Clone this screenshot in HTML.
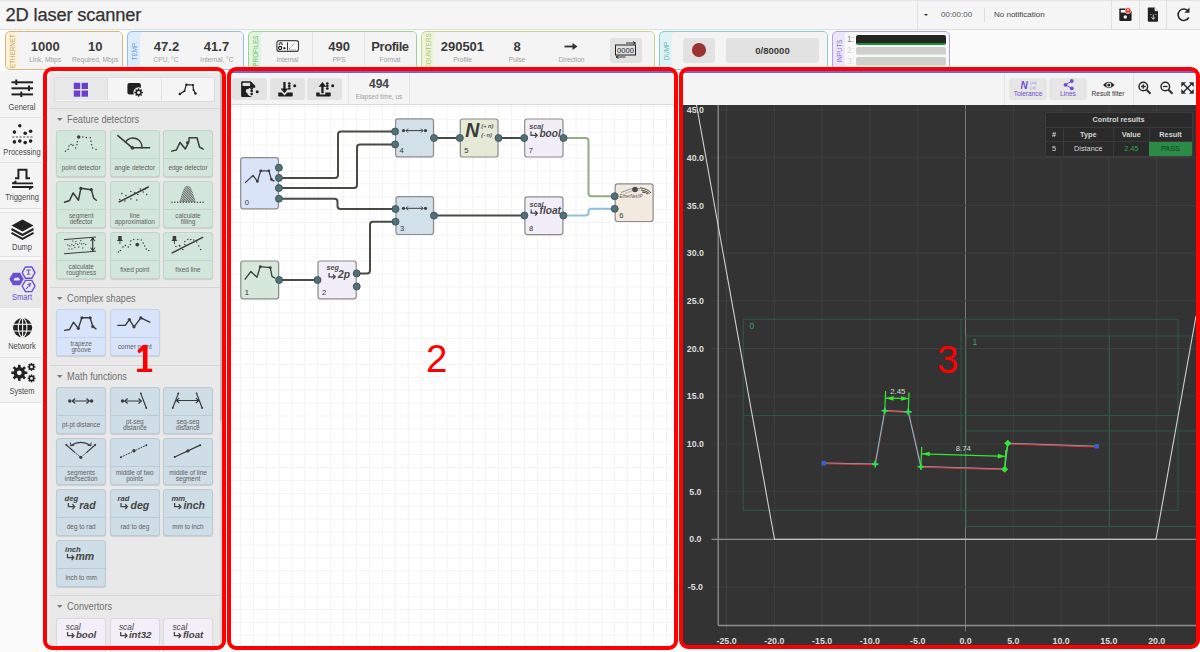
<!DOCTYPE html>
<html><head><meta charset="utf-8"><style>
*{box-sizing:border-box;margin:0;padding:0}
html,body{width:1200px;height:652px;overflow:hidden;background:#fbfbfb;font-family:"Liberation Sans",sans-serif;color:#333}
.a{position:absolute}
#title{left:0;top:0;width:1200px;height:30px;background:#f5f5f5;border-bottom:1px solid #dedede;box-shadow:inset 0 1px 0 #e3e3e8}
#title h1{position:absolute;left:5.5px;top:5px;font-size:18.3px;line-height:20px;font-weight:normal;color:#333;letter-spacing:-0.15px;-webkit-text-stroke:0.25px #333}
.vsep{position:absolute;top:0;width:1px;height:29px;background:#e0e0e0}
.wbox{position:absolute;top:31px;height:39px;border:1px solid #ccc;border-radius:5px;background:#f4f4f4;overflow:hidden}
.wlab{position:absolute;left:0;top:0;bottom:0;width:12px;}
.wlab span{position:absolute;left:50%;top:50%;transform:translate(-50%,-50%) rotate(-90deg);font-size:6.3px;line-height:7px;letter-spacing:0px;white-space:nowrap}
.val{position:absolute;font-weight:bold;font-size:13px;line-height:14px;color:#3a3a3a;text-align:center;white-space:nowrap}
.lbl{position:absolute;font-size:6.6px;line-height:7px;color:#a0a0a0;text-align:center;white-space:nowrap}
.redb{position:absolute;border:4px solid #ff0000;border-radius:9px;pointer-events:none}
.num{position:absolute;color:#ff0000;font-size:37px;line-height:1}
#nav{left:0;top:71px;width:42px;height:331px;background:#f4f4f4}
.nsep{position:absolute;left:0;width:42px;height:1px;background:#e2e2e2}
.nl{position:absolute;left:0;width:44px;text-align:center;transform:scaleX(0.9);transform-origin:22px 0;font-size:8.4px;line-height:9px;color:#4a4a4a;white-space:nowrap}
.card{position:absolute;border:1px solid;border-radius:3px;box-shadow:0 1px 1px rgba(0,0,0,0.12);overflow:hidden}
.card .ic{position:absolute;left:-1px;top:-1px}
.card .csep{position:absolute;left:0;right:0;top:27px;height:1px}
.card .clab{position:absolute;left:-4px;right:-4px;top:29px;bottom:0;display:flex;align-items:center;justify-content:center;text-align:center;font-size:6.4px;line-height:6.3px;color:#606060}
.shd{position:absolute;left:57px;transform:scaleX(0.92);transform-origin:0 0;font-size:10px;line-height:11px;color:#707070;white-space:nowrap}
.shd .tri{display:inline-block;width:0;height:0;border-left:3px solid transparent;border-right:3px solid transparent;border-top:3.5px solid #7a7a7a;margin-right:5px;vertical-align:2px}
</style></head>
<body>
<div id="title" class="a"><h1>2D laser scanner</h1>
<div class="vsep" style="left:917px"></div>
<div class="a" style="left:924px;top:13.5px;width:0;height:0;border-left:2.5px solid transparent;border-right:2.5px solid transparent;border-top:2.5px solid #333"></div>
<div class="a" style="left:941px;top:10px;font-size:8px;line-height:9px;color:#555">00:00:00</div>
<div class="a" style="left:984px;top:8px;width:1px;height:14px;background:#ddd"></div>
<div class="a" style="left:994px;top:10px;font-size:8px;line-height:9px;color:#444">No notification</div>
<div class="vsep" style="left:1111px"></div>
<div class="vsep" style="left:1139px"></div>
<div class="vsep" style="left:1166px"></div>
<svg class="a" style="left:1112px;top:0" width="88" height="29">
<path d="M7.3 9.2 a0.8 0.8 0 0 1 0.8 -0.8 h8.5 l3 3 v8.7 a0.8 0.8 0 0 1 -0.8 0.8 h-10.7 a0.8 0.8 0 0 1 -0.8 -0.8 z" fill="#222"/><rect x="8.8" y="10" width="5.5" height="2.6" fill="#f4f4f4"/><circle cx="13.3" cy="17" r="1.7" fill="#f4f4f4"/>
<circle cx="16" cy="10.7" r="3" fill="#e53935" stroke="#f4f4f4" stroke-width="0.6"/><path d="M16 9 v2" stroke="#fff" stroke-width="1"/><circle cx="16" cy="12.4" r="0.5" fill="#fff"/>
<path d="M35.8 8.3 a0.8 0.8 0 0 1 0.8 -0.8 h6.4 l3 3.2 v10.2 a0.8 0.8 0 0 1 -0.8 0.8 h-8.6 a0.8 0.8 0 0 1 -0.8 -0.8 z" fill="#222"/><path d="M43 7.5 v3.2 h3" fill="#f4f4f4" stroke="#f4f4f4" stroke-width="0.8"/><path d="M41.3 14.5 v4.5 M39.4 17.2 l1.9 2.2 l1.9 -2.2" stroke="#d8d8d8" stroke-width="0.9" fill="none"/><path d="M38 14.5 h1.5 M43 14.5 h1.5" stroke="#aaa" stroke-width="0.8"/>
<path d="M76.3 11.2 A 5.7 5.7 0 1 0 76.8 17.5" stroke="#2a2a2a" stroke-width="1.6" fill="none"/><path d="M77.5 7.6 L77.5 12.8 L72.3 12.8 Z" fill="#2a2a2a"/>
</svg>
</div>
<div class="wbox" style="left:5px;width:118px;border:1.4px solid #d8b877;background:#fcf1da"><div class="wlab" style="width:12px"><span style="color:#c9a058">ETHERNET</span></div><div class="a" style="left:12px;top:0;right:0;bottom:0;background:#f4f4f4;border-radius:4px 0 0 4px"></div></div>
<div class="wbox" style="left:127px;width:117px;border:1.4px solid #94bde6;background:#dcecfb"><div class="wlab" style="width:12px"><span style="color:#6a9bd0">TEMP.</span></div><div class="a" style="left:12px;top:0;right:0;bottom:0;background:#f4f4f4;border-radius:4px 0 0 4px"></div></div>
<div class="wbox" style="left:248px;width:169px;border:1.4px solid #98d498;background:#e0f4e0"><div class="wlab" style="width:12px"><span style="color:#6cbf6c">PROFILES</span></div><div class="a" style="left:12px;top:0;right:0;bottom:0;background:#f4f4f4;border-radius:4px 0 0 4px"></div></div>
<div class="wbox" style="left:421px;width:234px;border:1.4px solid #c0d890;background:#eef4dc"><div class="wlab" style="width:12px"><span style="color:#aac668">COUNTERS</span></div><div class="a" style="left:12px;top:0;right:0;bottom:0;background:#f4f4f4;border-radius:4px 0 0 4px"></div></div>
<div class="wbox" style="left:659px;width:169px;border:1.4px solid #86cccc;background:#def3f3"><div class="wlab" style="width:12px"><span style="color:#5fb3b3">DUMP</span></div><div class="a" style="left:12px;top:0;right:0;bottom:0;background:#f4f4f4;border-radius:4px 0 0 4px"></div></div>
<div class="wbox" style="left:832px;width:118px;border:1.4px solid #b3a0e6;background:#ebe6f8"><div class="wlab" style="width:12px"><span style="color:#8c72cc">INPUTS</span></div><div class="a" style="left:12px;top:0;right:0;bottom:0;background:#f4f4f4;border-radius:4px 0 0 4px"></div></div>
<div class="val" style="left:5.299999999999997px;top:40.2px;width:80px;font-size:13px">1000</div><div class="lbl" style="left:5.100000000000001px;top:55.5px;width:80px">Link, Mbps</div><div class="val" style="left:55.3px;top:40.2px;width:80px;font-size:13px">10</div><div class="lbl" style="left:55.400000000000006px;top:55.5px;width:80px">Required, Mbps</div>
<div class="val" style="left:126.5px;top:40.2px;width:80px;font-size:13px">47.2</div><div class="lbl" style="left:126px;top:55.5px;width:80px">CPU, °C</div><div class="val" style="left:176.5px;top:40.2px;width:80px;font-size:13px">41.7</div><div class="lbl" style="left:176.9px;top:55.5px;width:80px">Internal, °C</div>
<div class="a" style="left:312px;top:32px;width:1px;height:37px;background:#e4e4e4"></div><div class="a" style="left:363.5px;top:32px;width:1px;height:37px;background:#e4e4e4"></div>
<svg class="a" style="left:276px;top:39px" width="24" height="14"><rect x="0.9" y="1.6" width="21.6" height="10.8" rx="2.2" fill="#f6f6f6" stroke="#444" stroke-width="1.2"/><path d="M2.8 5.5 h1 v-1.8 h2 v1.8 h1" stroke="#222" stroke-width="0.9" fill="none"/><circle cx="4.1" cy="9" r="1.6" fill="none" stroke="#111" stroke-width="1.1"/><path d="M7.8 8.3 l1.8 0.9 l-1.8 0.9 z" fill="#111" stroke="#111" stroke-width="0.6"/><line x1="11.5" y1="3.3" x2="11.5" y2="11.3" stroke="#222" stroke-width="0.9"/><path d="M13 10 L18.5 4.2" stroke="#555" stroke-width="0.9" stroke-dasharray="1 1.1"/><rect x="13" y="10.5" width="7" height="1" fill="#aaa"/></svg>
<div class="lbl" style="left:247.5px;top:55.5px;width:80px">Internal</div><div class="val" style="left:299.2px;top:40.2px;width:80px;font-size:13px">490</div><div class="lbl" style="left:299px;top:55.5px;width:80px">PPS</div><div class="val" style="left:350px;top:40.2px;width:80px;font-size:13px"><span style="letter-spacing:-0.45px">Profile</span></div><div class="lbl" style="left:350px;top:55.5px;width:80px">Format</div>
<div class="val" style="left:422.4px;top:40.2px;width:80px;font-size:13px">290501</div><div class="lbl" style="left:422.5px;top:55.5px;width:80px">Profile</div><div class="val" style="left:477px;top:40.2px;width:80px;font-size:13px">8</div><div class="lbl" style="left:477px;top:55.5px;width:80px">Pulse</div><div class="lbl" style="left:531.5px;top:55.5px;width:80px">Direction</div>
<svg class="a" style="left:564px;top:42px" width="14" height="9"><path d="M0.5 4.5 h9" stroke="#333" stroke-width="1.8"/><path d="M8.5 1 L13.5 4.5 L8.5 8 Z" fill="#333"/></svg>
<div class="a" style="left:610px;top:38px;width:32px;height:24.5px;background:#e2e2e2;border-radius:3px"></div>
<svg class="a" style="left:612px;top:40px" width="28" height="20"><rect x="3.5" y="5" width="20" height="10" fill="none" stroke="#222" stroke-width="1"/><text x="13.5" y="13.3" font-size="7.8" text-anchor="middle" fill="#222" font-family="Liberation Sans" textLength="17" lengthAdjust="spacingAndGlyphs">0000</text><path d="M14 3 h9.5 M21 1.5 l2.5 1.5 l-2.5 1.5 M4 17 h9.5 M6.5 15.5 l-2.5 1.5 l2.5 1.5" stroke="#222" stroke-width="0.9" fill="none"/></svg>
<div class="a" style="left:683px;top:38px;width:32px;height:24.5px;background:#e2e2e2;border-radius:3px"></div>
<div class="a" style="left:692px;top:43px;width:13.5px;height:13.5px;background:#9b3333;border-radius:50%"></div>
<div class="a" style="left:726px;top:38px;width:93px;height:24.5px;background:#e2e2e2;border-radius:3px"></div>
<div class="val" style="left:726px;top:44.5px;width:93px;font-size:9.5px;line-height:11px">0/80000</div>
<div class="a" style="left:845px;top:32.5px;width:103px;height:36.5px;background:#f8f8f8;border-radius:0 3px 3px 0"></div><div class="a" style="left:847px;top:35px;font-size:8.5px;line-height:9px;color:#888">1:</div><div class="a" style="left:847px;top:46px;font-size:8.5px;line-height:9px;color:#d6d6d6">2:</div><div class="a" style="left:847px;top:57px;font-size:8.5px;line-height:9px;color:#d6d6d6">3:</div><div class="a" style="left:856px;top:35px;width:90px;height:9.5px;background:#252521;border-radius:2px;border-bottom:2px solid #1f8a3a"></div><div class="a" style="left:856px;top:46.5px;width:90px;height:8.5px;background:#cfcfcc;border-radius:2px;border-bottom:1.5px solid #cfe6cf"></div><div class="a" style="left:856px;top:57px;width:90px;height:8.5px;background:#cfcfcc;border-radius:2px;border-bottom:1.5px solid #cfe6cf"></div>
<div id="nav" class="a">
</div>
<div class="nsep" style="top:117px"></div>
<div class="nsep" style="top:162px"></div>
<div class="nsep" style="top:208px"></div>
<div class="nsep" style="top:212px"></div>
<div class="nsep" style="top:256px"></div>
<div class="nsep" style="top:260px"></div>
<div class="nsep" style="top:307px"></div>
<div class="nsep" style="top:357px"></div>
<div class="nsep" style="top:402px"></div>
<div class="a" style="left:0;top:261px;width:42px;height:46px;background:#e8e8e8"></div>
<div class="a" style="left:0;top:209px;width:42px;height:3px;background:#f8f8f8"></div>
<div class="a" style="left:0;top:257px;width:42px;height:3px;background:#f8f8f8"></div>
<div class="nl" style="top:102.5px;color:#4a4a4a">General</div>
<div class="nl" style="top:147.5px;color:#4a4a4a">Processing</div>
<div class="nl" style="top:193.0px;color:#4a4a4a">Triggering</div>
<div class="nl" style="top:243.0px;color:#4a4a4a">Dump</div>
<div class="nl" style="top:292.5px;color:#6a4fd0">Smart</div>
<div class="nl" style="top:342.0px;color:#4a4a4a">Network</div>
<div class="nl" style="top:387.0px;color:#4a4a4a">System</div>
<svg class="a" style="left:0;top:71px" width="42" height="331">
<g stroke="#222" stroke-width="2" fill="#222">
<line x1="11.5" y1="11.3" x2="33" y2="11.3"/><line x1="11.5" y1="17.3" x2="33" y2="17.3"/><line x1="11.5" y1="23.4" x2="33" y2="23.4"/>
<rect x="15.3" y="8.5" width="2" height="5.5" stroke="none"/><rect x="28" y="14.5" width="2" height="5.5" stroke="none"/><rect x="20.3" y="20.6" width="2" height="5.5" stroke="none"/>
</g>
<g fill="#222">
<circle cx="19.8" cy="54.7" r="1.7"/><circle cx="14.4" cy="61.1" r="1.8"/><circle cx="25.2" cy="62.2" r="1.8"/><circle cx="30.6" cy="60.3" r="1.8"/>
<circle cx="14.4" cy="70.9" r="1.8"/><circle cx="19.8" cy="70.1" r="1.8"/><circle cx="25.2" cy="71.6" r="1.8"/><circle cx="30.6" cy="70.1" r="1.8"/>
</g>
<line x1="12.3" y1="66" x2="33" y2="66" stroke="#555" stroke-width="1" stroke-dasharray="2.2 1.4"/>
<path d="M15 107.2 h3.4 v-8.4 h8.1 v8.4 h3.5" stroke="#222" stroke-width="2" fill="none"/>
<path d="M12.3 112.3 h20.7 M12 116 h21" stroke="#222" stroke-width="1.8" fill="none"/><path d="M12 112.3 l4 -2.5 v2.5 z M33.3 116 l-4 2.5 v-2.5 z" fill="#222" stroke="#222" stroke-width="0.8"/>
<path d="M22.5 148.5 L33.5 154.5 L22.5 160.5 L11.5 154.5 Z" fill="#222"/>
<path d="M11.5 158 L22.5 164 L33.5 158" stroke="#222" stroke-width="2" fill="none"/>
<path d="M11.5 161.8 L22.5 167.8 L33.5 161.8" stroke="#222" stroke-width="2" fill="none"/>
<g fill="#6a4fd0" stroke="#6a4fd0">
<path d="M9.3 208 L12.9 201.8 L20.1 201.8 L23.7 208 L20.1 214.2 L12.9 214.2 Z" stroke="none"/>
<path d="M22.2 201.6 L25.4 196 L31.8 196 L35 201.6 L31.8 207.2 L25.4 207.2 Z" fill="none" stroke-width="1.4"/>
<path d="M22.2 215 L25.4 209.4 L31.8 209.4 L35 215 L31.8 220.6 L25.4 220.6 Z" fill="none" stroke-width="1.4"/>
<path d="M26.3 199 h4.5 M28.5 199 v3.5 M26.8 203.2 h3.5" stroke-width="1.1" fill="none"/>
<path d="M26 218 l4.5 -5 M27.5 213.5 l3 -1 l-1 3" stroke-width="1.1" fill="none"/>
</g>
<path d="M12.8 210.3 h7.5 a1.6 1.6 0 0 0 0 -3.2 a2.2 2.2 0 0 0 -4 -1 a1.8 1.8 0 0 0 -3 1.5 a1.4 1.4 0 0 0 -0.5 2.7 z" fill="#e8e8e8" transform="translate(16.5 208.3) scale(0.62) translate(-16.5 -208.3)"/>
<circle cx="22.6" cy="256.7" r="9.6" fill="#222"/>
<g fill="none" stroke="#f4f4f4">
<ellipse cx="22.6" cy="256.7" rx="4.3" ry="9.4" stroke-width="1.1"/>
<line x1="22.6" y1="247" x2="22.6" y2="266.4" stroke-width="1.1"/>
<line x1="13" y1="253.3" x2="32.2" y2="253.3" stroke-width="1.1"/><line x1="13" y1="260.1" x2="32.2" y2="260.1" stroke-width="1.1"/>
</g>
<g fill="#222">
<circle cx="19.3" cy="301.8" r="5.8"/>
<g stroke="#222" stroke-width="2.6"><line x1="19.3" y1="293.8" x2="19.3" y2="309.8"/><line x1="11.3" y1="301.8" x2="27.3" y2="301.8"/><line x1="13.6" y1="296.1" x2="25" y2="307.5"/><line x1="25" y1="296.1" x2="13.6" y2="307.5"/></g>
<circle cx="31.5" cy="295.9" r="2.9"/><circle cx="31.5" cy="307.4" r="2.9"/>
<g stroke="#222" stroke-width="1.5"><line x1="31.5" y1="292" x2="31.5" y2="299.8"/><line x1="27.6" y1="295.9" x2="35.4" y2="295.9"/><line x1="28.7" y1="293.1" x2="34.3" y2="298.7"/><line x1="34.3" y1="293.1" x2="28.7" y2="298.7"/><line x1="31.5" y1="303.5" x2="31.5" y2="311.3"/><line x1="27.6" y1="307.4" x2="35.4" y2="307.4"/><line x1="28.7" y1="304.6" x2="34.3" y2="310.2"/><line x1="34.3" y1="304.6" x2="28.7" y2="310.2"/></g>
</g>
<circle cx="19.3" cy="301.8" r="2.4" fill="#f4f4f4"/><circle cx="31.5" cy="295.9" r="1.4" fill="#f4f4f4"/><circle cx="31.5" cy="307.4" r="1.4" fill="#f4f4f4"/>
</svg>
<div class="a" style="left:47px;top:71px;width:175px;height:575px;background:#f4f4f4"></div>
<div class="a" id="p1bg" style="left:49px;top:72.5px;width:173px;height:574px;background:#e9e9e9;border-top-left-radius:3px"></div>
<div class="a" style="left:220px;top:71px;width:2px;height:575px;background:#d9d9d9"></div>
<div class="a" style="left:219.5px;top:72px;width:2.5px;height:349px;background:#bcbdbd;border-radius:1px"></div>
<div class="a" style="left:54px;top:77px;width:161px;height:25px;background:#f5f5f5;border:1px solid #dcdcdc;border-radius:3px;overflow:hidden">
<div class="a" style="left:0;top:0;width:53px;height:22px;background:#e8e8e8;border-right:1px solid #dcdcdc"></div>
<div class="a" style="left:106px;top:0;width:1px;height:22px;background:#e3e3e3"></div>
<svg class="a" style="left:0;top:0" width="160" height="22">
<rect x="18.8" y="4.8" width="6.4" height="6.2" fill="#6a3fcf"/><rect x="26.6" y="4.8" width="6.4" height="6.2" fill="#6a3fcf"/><rect x="18.8" y="12.5" width="6.4" height="6.2" fill="#6a3fcf"/><rect x="26.6" y="12.5" width="6.4" height="6.2" fill="#6a3fcf"/>
<rect x="72.4" y="5.1" width="13.5" height="11.3" rx="2" fill="#222"/><circle cx="83.6" cy="14.5" r="5.2" fill="#f5f5f5"/>
<g stroke="#222" stroke-width="1.4"><line x1="83.6" y1="10.2" x2="83.6" y2="18.8"/><line x1="79.3" y1="14.5" x2="87.9" y2="14.5"/><line x1="80.6" y1="11.5" x2="86.6" y2="17.5"/><line x1="86.6" y1="11.5" x2="80.6" y2="17.5"/></g><circle cx="83.6" cy="14.5" r="3.1" fill="#222"/><circle cx="83.6" cy="14.5" r="1.5" fill="#f5f5f5"/>
<polyline points="124.9,16 129.5,13 131.3,6.7 138,7 138.5,12 140.5,15.5" fill="none" stroke="#222" stroke-width="1.2"/><g fill="#222"><circle cx="124.9" cy="16" r="1.3"/><circle cx="129.5" cy="13" r="1"/><circle cx="131.3" cy="6.7" r="1.1"/><circle cx="138" cy="7" r="1.1"/><circle cx="138.5" cy="12" r="1"/><circle cx="140.5" cy="15.5" r="1.3"/></g>
</svg></div>
<div class="a" style="left:49px;top:108px;width:171px;height:1px;background:#d5d5d5"></div>
<div class="shd" style="top:114px"><span class="tri"></span>Feature detectors</div>
<div class="a" style="left:49px;top:287px;width:171px;height:1px;background:#d5d5d5"></div>
<div class="shd" style="top:293px"><span class="tri"></span>Complex shapes</div>
<div class="a" style="left:49px;top:365px;width:171px;height:1px;background:#d5d5d5"></div>
<div class="shd" style="top:371px"><span class="tri"></span>Math functions</div>
<div class="a" style="left:49px;top:595px;width:171px;height:1px;background:#d5d5d5"></div>
<div class="shd" style="top:601px"><span class="tri"></span>Convertors</div>
<div class="card" style="left:56.4px;top:130px;width:49.6px;height:47px;background:#d2e6db;border-color:#bfd6c9">
<svg class="ic" width="49.6" height="28" viewBox="0 0 50 28"><circle cx="22.9" cy="6.9" r="1.8" fill="#3d3d3d"/><circle cx="9.6" cy="21.4" r="0.78" fill="#3d3d3d"/><circle cx="12.2" cy="19.4" r="0.78" fill="#3d3d3d"/><circle cx="13.1" cy="16" r="0.78" fill="#3d3d3d"/><circle cx="15.2" cy="14.5" r="0.78" fill="#3d3d3d"/><circle cx="17.2" cy="15.4" r="0.78" fill="#3d3d3d"/><circle cx="19.8" cy="18.1" r="0.78" fill="#3d3d3d"/><circle cx="21.1" cy="14.7" r="0.78" fill="#3d3d3d"/><circle cx="21.6" cy="11.7" r="0.78" fill="#3d3d3d"/><circle cx="27.1" cy="7" r="0.78" fill="#3d3d3d"/><circle cx="30.6" cy="7.5" r="0.78" fill="#3d3d3d"/><circle cx="34.6" cy="7.7" r="0.78" fill="#3d3d3d"/><circle cx="35.2" cy="11.2" r="0.78" fill="#3d3d3d"/><circle cx="35.9" cy="14.7" r="0.78" fill="#3d3d3d"/><circle cx="36.9" cy="18" r="0.78" fill="#3d3d3d"/><circle cx="40.4" cy="19.5" r="0.78" fill="#3d3d3d"/></svg>
<div class="csep" style="background:#bfd6c9"></div>
<div class="clab">point detector</div></div>
<div class="card" style="left:110px;top:130px;width:49.6px;height:47px;background:#d2e6db;border-color:#bfd6c9">
<svg class="ic" width="49.6" height="28" viewBox="0 0 50 28"><line x1="7.9" y1="5.5" x2="22.6" y2="17.9" stroke="#3a3a3a" fill="none" stroke-linejoin="round" stroke-linecap="round" stroke-width="1.5"/><line x1="22.6" y1="17.9" x2="40" y2="17.9" stroke="#3a3a3a" fill="none" stroke-linejoin="round" stroke-linecap="round" stroke-width="1.5"/><path d="M15.6 12.1 A 9 9 0 0 1 32.1 17.9" stroke="#3a3a3a" fill="none" stroke-linejoin="round" stroke-linecap="round" stroke-width="1.5"/><circle cx="22.6" cy="17.9" r="1.9" fill="#3d3d3d"/></svg>
<div class="csep" style="background:#bfd6c9"></div>
<div class="clab">angle detector</div></div>
<div class="card" style="left:163.2px;top:130px;width:49.6px;height:47px;background:#d2e6db;border-color:#bfd6c9">
<svg class="ic" width="49.6" height="28" viewBox="0 0 50 28"><polyline points="8.8,21.2 13.5,20 17.2,12.4 22.5,19 26,12.2 26.3,7.7 34.3,7.7 36.8,17 40.6,19.1" stroke="#3a3a3a" fill="none" stroke-linejoin="round" stroke-linecap="round" stroke-width="1.5" /><circle cx="24.6" cy="12.8" r="1.5" fill="#3d3d3d"/></svg>
<div class="csep" style="background:#bfd6c9"></div>
<div class="clab">edge detector</div></div>
<div class="card" style="left:56.4px;top:181px;width:49.6px;height:47px;background:#d2e6db;border-color:#bfd6c9">
<svg class="ic" width="49.6" height="28" viewBox="0 0 50 28"><polyline points="8.6,21.3 13.6,19.6 17.3,11.9 22.6,19.3 25.1,7.3 35.6,8.6 38.1,17.3 40.6,19.3" stroke="#3a3a3a" fill="none" stroke-linejoin="round" stroke-linecap="round" stroke-width="1.5"/><circle cx="25.1" cy="7.3" r="1.6" fill="#3d3d3d"/><circle cx="35.6" cy="8.6" r="1.6" fill="#3d3d3d"/></svg>
<div class="csep" style="background:#bfd6c9"></div>
<div class="clab">segment<br>detector</div></div>
<div class="card" style="left:110px;top:181px;width:49.6px;height:47px;background:#d2e6db;border-color:#bfd6c9">
<svg class="ic" width="49.6" height="28" viewBox="0 0 50 28"><line x1="9.3" y1="21" x2="38.6" y2="5.9" stroke="#3a3a3a" fill="none" stroke-linejoin="round" stroke-linecap="round" stroke-width="1.5"/><circle cx="12" cy="12.5" r="0.78" fill="#3d3d3d"/><circle cx="16" cy="14.5" r="0.78" fill="#3d3d3d"/><circle cx="21" cy="10.5" r="0.78" fill="#3d3d3d"/><circle cx="25" cy="11.5" r="0.78" fill="#3d3d3d"/><circle cx="30.5" cy="8" r="0.78" fill="#3d3d3d"/><circle cx="33.5" cy="11" r="0.78" fill="#3d3d3d"/><circle cx="37" cy="13.5" r="0.78" fill="#3d3d3d"/><circle cx="9.8" cy="18.5" r="0.78" fill="#3d3d3d"/><circle cx="15" cy="20" r="0.78" fill="#3d3d3d"/><circle cx="21" cy="18" r="0.78" fill="#3d3d3d"/><circle cx="27" cy="19" r="0.78" fill="#3d3d3d"/><circle cx="28" cy="13.5" r="0.78" fill="#3d3d3d"/><circle cx="35.7" cy="8" r="0.78" fill="#3d3d3d"/></svg>
<div class="csep" style="background:#bfd6c9"></div>
<div class="clab">line<br>approximation</div></div>
<div class="card" style="left:163.2px;top:181px;width:49.6px;height:47px;background:#d2e6db;border-color:#bfd6c9">
<svg class="ic" width="49.6" height="28" viewBox="0 0 50 28"><circle cx="9.1" cy="21.3" r="0.75" fill="#3d3d3d"/><circle cx="11.95" cy="21.3" r="0.75" fill="#3d3d3d"/><circle cx="14.8" cy="21.3" r="0.75" fill="#3d3d3d"/><circle cx="17.65" cy="21.3" r="0.75" fill="#3d3d3d"/><circle cx="20.5" cy="21.3" r="0.75" fill="#3d3d3d"/><circle cx="23.35" cy="21.3" r="0.75" fill="#3d3d3d"/><circle cx="26.200000000000003" cy="21.3" r="0.75" fill="#3d3d3d"/><circle cx="29.049999999999997" cy="21.3" r="0.75" fill="#3d3d3d"/><circle cx="31.9" cy="21.3" r="0.75" fill="#3d3d3d"/><circle cx="34.75" cy="21.3" r="0.75" fill="#3d3d3d"/><circle cx="37.6" cy="21.3" r="0.75" fill="#3d3d3d"/><circle cx="40.45" cy="21.3" r="0.75" fill="#3d3d3d"/><clipPath id="fillclip"><path d="M16.5 21 L19 13 L21.5 6.5 L24.8 4.3 L28 6.5 L30.5 13 L33 21 Z"/></clipPath><g clip-path="url(#fillclip)" stroke="#3a3a3a" stroke-width="0.75"><line x1="-5.6" y1="0" x2="16.4" y2="22"/><line x1="-3.9000000000000004" y1="0" x2="18.1" y2="22"/><line x1="-2.1999999999999993" y1="0" x2="19.8" y2="22"/><line x1="-0.5" y1="0" x2="21.5" y2="22"/><line x1="1.2000000000000002" y1="0" x2="23.2" y2="22"/><line x1="2.9000000000000004" y1="0" x2="24.9" y2="22"/><line x1="4.6" y1="0" x2="26.6" y2="22"/><line x1="6.3" y1="0" x2="28.3" y2="22"/><line x1="8.0" y1="0" x2="30.0" y2="22"/><line x1="9.7" y1="0" x2="31.7" y2="22"/><line x1="11.4" y1="0" x2="33.4" y2="22"/><line x1="13.1" y1="0" x2="35.1" y2="22"/><line x1="14.8" y1="0" x2="36.8" y2="22"/><line x1="16.5" y1="0" x2="38.5" y2="22"/><line x1="18.2" y1="0" x2="40.2" y2="22"/><line x1="19.9" y1="0" x2="41.9" y2="22"/><line x1="21.6" y1="0" x2="43.6" y2="22"/></g></svg>
<div class="csep" style="background:#bfd6c9"></div>
<div class="clab">calculate<br>filling</div></div>
<div class="card" style="left:56.4px;top:232px;width:49.6px;height:47px;background:#d2e6db;border-color:#bfd6c9">
<svg class="ic" width="49.6" height="28" viewBox="0 0 50 28"><line x1="8.5" y1="7.5" x2="40" y2="5" stroke="#3a3a3a" fill="none" stroke-linejoin="round" stroke-linecap="round" stroke-width="1"/><line x1="8.5" y1="21.8" x2="40" y2="19.3" stroke="#3a3a3a" fill="none" stroke-linejoin="round" stroke-linecap="round" stroke-width="1"/><line x1="37" y1="6.2" x2="37" y2="18.5" stroke="#3a3a3a" fill="none" stroke-linejoin="round" stroke-linecap="round" stroke-width="1.2"/><path d="M35 8.7 L37 6 L39 8.7 M35 16 L37 18.7 L39 16" stroke="#3a3a3a" fill="none" stroke-linejoin="round" stroke-linecap="round" stroke-width="1.1"/><circle cx="12" cy="13" r="0.65" fill="#3d3d3d"/><circle cx="14" cy="14" r="0.65" fill="#3d3d3d"/><circle cx="16" cy="12.5" r="0.65" fill="#3d3d3d"/><circle cx="18" cy="13.5" r="0.65" fill="#3d3d3d"/><circle cx="20" cy="11.5" r="0.65" fill="#3d3d3d"/><circle cx="22" cy="12.5" r="0.65" fill="#3d3d3d"/><circle cx="24" cy="11" r="0.65" fill="#3d3d3d"/><circle cx="26" cy="12" r="0.65" fill="#3d3d3d"/><circle cx="28" cy="11.5" r="0.65" fill="#3d3d3d"/><circle cx="30" cy="12.5" r="0.65" fill="#3d3d3d"/><circle cx="13" cy="17" r="0.65" fill="#3d3d3d"/><circle cx="16" cy="17" r="0.65" fill="#3d3d3d"/><circle cx="19" cy="15.5" r="0.65" fill="#3d3d3d"/><circle cx="23" cy="15" r="0.65" fill="#3d3d3d"/><circle cx="27" cy="16" r="0.65" fill="#3d3d3d"/><circle cx="17" cy="9" r="0.65" fill="#3d3d3d"/><circle cx="20" cy="9.5" r="0.65" fill="#3d3d3d"/><circle cx="25" cy="8.5" r="0.65" fill="#3d3d3d"/></svg>
<div class="csep" style="background:#bfd6c9"></div>
<div class="clab">calculate<br>roughness</div></div>
<div class="card" style="left:110px;top:232px;width:49.6px;height:47px;background:#d2e6db;border-color:#bfd6c9">
<svg class="ic" width="49.6" height="28" viewBox="0 0 50 28"><path d="M8.2 4 h3.6 v3.4 l1.4 1.6 h-6.4 l1.4 -1.6 z" fill="#3d3d3d"/><line x1="10" y1="8.5" x2="10" y2="12" stroke="#3d3d3d" stroke-width="0.9"/><circle cx="27.5" cy="12.5" r="1.9" fill="#3d3d3d"/><circle cx="8.5" cy="20" r="0.78" fill="#3d3d3d"/><circle cx="10.5" cy="18.5" r="0.78" fill="#3d3d3d"/><circle cx="13" cy="15" r="0.78" fill="#3d3d3d"/><circle cx="15.5" cy="13.5" r="0.78" fill="#3d3d3d"/><circle cx="18.5" cy="15" r="0.78" fill="#3d3d3d"/><circle cx="20.5" cy="12.5" r="0.78" fill="#3d3d3d"/><circle cx="21" cy="9" r="0.78" fill="#3d3d3d"/><circle cx="24" cy="7.5" r="0.78" fill="#3d3d3d"/><circle cx="28" cy="7.5" r="0.78" fill="#3d3d3d"/><circle cx="31.5" cy="8" r="0.78" fill="#3d3d3d"/><circle cx="33.5" cy="11" r="0.78" fill="#3d3d3d"/><circle cx="35" cy="14" r="0.78" fill="#3d3d3d"/><circle cx="36.5" cy="17" r="0.78" fill="#3d3d3d"/><circle cx="39" cy="18.5" r="0.78" fill="#3d3d3d"/></svg>
<div class="csep" style="background:#bfd6c9"></div>
<div class="clab">fixed point</div></div>
<div class="card" style="left:163.2px;top:232px;width:49.6px;height:47px;background:#d2e6db;border-color:#bfd6c9">
<svg class="ic" width="49.6" height="28" viewBox="0 0 50 28"><path d="M9.7 4 h3.6 v3.4 l1.4 1.6 h-6.4 l1.4 -1.6 z" fill="#3d3d3d"/><line x1="11.5" y1="8.5" x2="11.5" y2="12" stroke="#3d3d3d" stroke-width="0.9"/><line x1="9.3" y1="21" x2="40" y2="5.2" stroke="#3a3a3a" fill="none" stroke-linejoin="round" stroke-linecap="round" stroke-width="1.4"/><circle cx="13" cy="14.5" r="0.78" fill="#3d3d3d"/><circle cx="17" cy="14" r="0.78" fill="#3d3d3d"/><circle cx="20" cy="17.5" r="0.78" fill="#3d3d3d"/><circle cx="22" cy="9.5" r="0.78" fill="#3d3d3d"/><circle cx="25" cy="7.5" r="0.78" fill="#3d3d3d"/><circle cx="28" cy="7.5" r="0.78" fill="#3d3d3d"/><circle cx="31" cy="8" r="0.78" fill="#3d3d3d"/><circle cx="34" cy="10" r="0.78" fill="#3d3d3d"/><circle cx="36" cy="14" r="0.78" fill="#3d3d3d"/><circle cx="38" cy="17.5" r="0.78" fill="#3d3d3d"/><circle cx="16.5" cy="13.5" r="0.78" fill="#3d3d3d"/><circle cx="22" cy="12.5" r="0.78" fill="#3d3d3d"/></svg>
<div class="csep" style="background:#bfd6c9"></div>
<div class="clab">fixed line</div></div>
<div class="card" style="left:56.4px;top:309px;width:49.6px;height:47px;background:#d8e4f9;border-color:#c4d2eb">
<svg class="ic" width="49.6" height="28" viewBox="0 0 50 28"><polyline points="8.7,21.4 13.7,20.5 17.6,13.2 22.5,19.4 26.1,8.7 34.4,8.7 37.2,17.7 40.3,19.9" stroke="#3a3a3a" fill="none" stroke-linejoin="round" stroke-linecap="round" stroke-width="1.4"/><circle cx="22.5" cy="19.4" r="1.6" fill="#3d3d3d"/><circle cx="26.1" cy="8.7" r="1.6" fill="#3d3d3d"/><circle cx="34.4" cy="8.7" r="1.6" fill="#3d3d3d"/><circle cx="37.1" cy="17.6" r="1.6" fill="#3d3d3d"/></svg>
<div class="csep" style="background:#c4d2eb"></div>
<div class="clab">trapeze<br>groove</div></div>
<div class="card" style="left:110px;top:309px;width:49.6px;height:47px;background:#d8e4f9;border-color:#c4d2eb">
<svg class="ic" width="49.6" height="28" viewBox="0 0 50 28"><polyline points="7.9,16.4 15.4,16.4 19.5,10.5 24.2,17.9 31.1,8.9 40.1,13.1" stroke="#3a3a3a" fill="none" stroke-linejoin="round" stroke-linecap="round" stroke-width="1.4"/><circle cx="19.5" cy="10.5" r="1.6" fill="#3d3d3d"/><circle cx="24.2" cy="17.9" r="1.6" fill="#3d3d3d"/><circle cx="31.1" cy="8.9" r="1.6" fill="#3d3d3d"/></svg>
<div class="csep" style="background:#c4d2eb"></div>
<div class="clab">corner point</div></div>
<div class="card" style="left:56.4px;top:387px;width:49.6px;height:47px;background:#cedde6;border-color:#b9cbd6">
<svg class="ic" width="49.6" height="28" viewBox="0 0 50 28"><circle cx="13.9" cy="14" r="1.7" fill="#3d3d3d"/><circle cx="35.9" cy="14" r="1.7" fill="#3d3d3d"/><line x1="16.5" y1="14" x2="33.5" y2="14" stroke="#3a3a3a" fill="none" stroke-linejoin="round" stroke-linecap="round" stroke-width="1.2"/><path d="M19.0 11.8 L16.5 14 L19.0 16.2 M31.0 11.8 L33.5 14 L31.0 16.2" stroke="#3a3a3a" fill="none" stroke-linejoin="round" stroke-linecap="round" stroke-width="1.2"/></svg>
<div class="csep" style="background:#b9cbd6"></div>
<div class="clab">pt-pt distance</div></div>
<div class="card" style="left:110px;top:387px;width:49.6px;height:47px;background:#cedde6;border-color:#b9cbd6">
<svg class="ic" width="49.6" height="28" viewBox="0 0 50 28"><circle cx="12.6" cy="14" r="1.7" fill="#3d3d3d"/><line x1="15" y1="14" x2="31.5" y2="14" stroke="#3a3a3a" fill="none" stroke-linejoin="round" stroke-linecap="round" stroke-width="1.2"/><path d="M17.5 11.8 L15 14 L17.5 16.2 M29.0 11.8 L31.5 14 L29.0 16.2" stroke="#3a3a3a" fill="none" stroke-linejoin="round" stroke-linecap="round" stroke-width="1.2"/><line x1="31" y1="6.3" x2="36.6" y2="21" stroke="#3a3a3a" fill="none" stroke-linejoin="round" stroke-linecap="round" stroke-width="1.2"/><circle cx="31" cy="6.3" r="0.9" fill="#3d3d3d"/><circle cx="36.6" cy="21" r="0.9" fill="#3d3d3d"/></svg>
<div class="csep" style="background:#b9cbd6"></div>
<div class="clab">pt-seg<br>distance</div></div>
<div class="card" style="left:163.2px;top:387px;width:49.6px;height:47px;background:#cedde6;border-color:#b9cbd6">
<svg class="ic" width="49.6" height="28" viewBox="0 0 50 28"><line x1="15.5" y1="6.3" x2="9.8" y2="21" stroke="#3a3a3a" fill="none" stroke-linejoin="round" stroke-linecap="round" stroke-width="1.2"/><line x1="33.8" y1="6.3" x2="39.5" y2="21" stroke="#3a3a3a" fill="none" stroke-linejoin="round" stroke-linecap="round" stroke-width="1.2"/><line x1="13.5" y1="13.5" x2="36" y2="13.5" stroke="#3a3a3a" fill="none" stroke-linejoin="round" stroke-linecap="round" stroke-width="1.2"/><path d="M16.0 11.3 L13.5 13.5 L16.0 15.7 M33.5 11.3 L36 13.5 L33.5 15.7" stroke="#3a3a3a" fill="none" stroke-linejoin="round" stroke-linecap="round" stroke-width="1.2"/><circle cx="15.5" cy="6.3" r="0.9" fill="#3d3d3d"/><circle cx="9.8" cy="21" r="0.9" fill="#3d3d3d"/><circle cx="33.8" cy="6.3" r="0.9" fill="#3d3d3d"/><circle cx="39.5" cy="21" r="0.9" fill="#3d3d3d"/></svg>
<div class="csep" style="background:#b9cbd6"></div>
<div class="clab">seg-seg<br>distance</div></div>
<div class="card" style="left:56.4px;top:438px;width:49.6px;height:47px;background:#cedde6;border-color:#b9cbd6">
<svg class="ic" width="49.6" height="28" viewBox="0 0 50 28"><line x1="10.3" y1="6.7" x2="18.6" y2="14.1" stroke="#3a3a3a" fill="none" stroke-linejoin="round" stroke-linecap="round" stroke-width="1.2"/><line x1="39.6" y1="6.7" x2="31.3" y2="14.1" stroke="#3a3a3a" fill="none" stroke-linejoin="round" stroke-linecap="round" stroke-width="1.2"/><path d="M18.6 14.1 L25 19.4 L31.3 14.1" stroke="#3a3a3a" fill="none" stroke-linejoin="round" stroke-linecap="round" stroke-width="0.8" stroke-dasharray="1 1.2"/><path d="M15 7.5 Q 25 1 35 7.5" stroke="#3a3a3a" fill="none" stroke-linejoin="round" stroke-linecap="round" stroke-width="1.1"/><path d="M14.5 4.8 L15 7.7 L17.8 7.3 M32.2 7.3 L35 7.7 L35.5 4.8" stroke="#3a3a3a" fill="none" stroke-linejoin="round" stroke-linecap="round" stroke-width="1"/><circle cx="25" cy="19.4" r="1.6" fill="#3d3d3d"/><circle cx="10.3" cy="6.7" r="0.9" fill="#3d3d3d"/><circle cx="39.6" cy="6.7" r="0.9" fill="#3d3d3d"/></svg>
<div class="csep" style="background:#b9cbd6"></div>
<div class="clab">segments<br>intersection</div></div>
<div class="card" style="left:110px;top:438px;width:49.6px;height:47px;background:#cedde6;border-color:#b9cbd6">
<svg class="ic" width="49.6" height="28" viewBox="0 0 50 28"><line x1="11" y1="19.3" x2="36.6" y2="7.1" stroke="#3a3a3a" fill="none" stroke-linejoin="round" stroke-linecap="round" stroke-width="0.9" stroke-dasharray="1.2 1.6"/><circle cx="11" cy="19.3" r="1" fill="#3d3d3d"/><circle cx="36.6" cy="7.1" r="1" fill="#3d3d3d"/><circle cx="24.2" cy="12.7" r="1.7" fill="#3d3d3d"/></svg>
<div class="csep" style="background:#b9cbd6"></div>
<div class="clab">middle of two<br>points</div></div>
<div class="card" style="left:163.2px;top:438px;width:49.6px;height:47px;background:#cedde6;border-color:#b9cbd6">
<svg class="ic" width="49.6" height="28" viewBox="0 0 50 28"><line x1="11.8" y1="19.1" x2="37.5" y2="7.1" stroke="#3a3a3a" fill="none" stroke-linejoin="round" stroke-linecap="round" stroke-width="1.2"/><circle cx="11.8" cy="19.1" r="1" fill="#3d3d3d"/><circle cx="37.5" cy="7.1" r="1" fill="#3d3d3d"/><circle cx="25.1" cy="12.9" r="1.7" fill="#3d3d3d"/></svg>
<div class="csep" style="background:#b9cbd6"></div>
<div class="clab">middle of line<br>segment</div></div>
<div class="card" style="left:56.4px;top:489px;width:49.6px;height:47px;background:#cedde6;border-color:#b9cbd6">
<svg class="ic" width="49.6" height="28" viewBox="0 0 50 28"><text x="8.6" y="11.8" font-family="Liberation Sans" font-weight="bold" font-style="italic" font-size="7.7" fill="#444">deg</text><path d="M12.5 14.1 v3.6 h6.3 M16.6 15.2 L18.9 17.7 L16.6 20.2" stroke="#444" fill="none" stroke-width="1.3" stroke-linejoin="miter"/><text x="23.400000000000002" y="20.2" font-family="Liberation Sans" font-weight="bold" font-style="italic" font-size="10.6" fill="#444">rad</text></svg>
<div class="csep" style="background:#b9cbd6"></div>
<div class="clab">deg to rad</div></div>
<div class="card" style="left:110px;top:489px;width:49.6px;height:47px;background:#cedde6;border-color:#b9cbd6">
<svg class="ic" width="49.6" height="28" viewBox="0 0 50 28"><text x="7.6" y="11.8" font-family="Liberation Sans" font-weight="bold" font-style="italic" font-size="7.7" fill="#444">rad</text><path d="M11.1 14.1 v3.6 h6.3 M15.2 15.2 L17.5 17.7 L15.2 20.2" stroke="#444" fill="none" stroke-width="1.3" stroke-linejoin="miter"/><text x="20.7" y="20.2" font-family="Liberation Sans" font-weight="bold" font-style="italic" font-size="10.6" fill="#444">deg</text></svg>
<div class="csep" style="background:#b9cbd6"></div>
<div class="clab">rad to deg</div></div>
<div class="card" style="left:163.2px;top:489px;width:49.6px;height:47px;background:#cedde6;border-color:#b9cbd6">
<svg class="ic" width="49.6" height="28" viewBox="0 0 50 28"><text x="8.5" y="11.8" font-family="Liberation Sans" font-weight="bold" font-style="italic" font-size="7.7" fill="#444">mm</text><path d="M11.7 14.1 v3.6 h6.3 M15.8 15.2 L18.1 17.7 L15.8 20.2" stroke="#444" fill="none" stroke-width="1.3" stroke-linejoin="miter"/><text x="20.6" y="20.2" font-family="Liberation Sans" font-weight="bold" font-style="italic" font-size="10.6" fill="#444">inch</text></svg>
<div class="csep" style="background:#b9cbd6"></div>
<div class="clab">mm to inch</div></div>
<div class="card" style="left:56.4px;top:540px;width:49.6px;height:47px;background:#cedde6;border-color:#b9cbd6">
<svg class="ic" width="49.6" height="28" viewBox="0 0 50 28"><text x="9.1" y="11.8" font-family="Liberation Sans" font-weight="bold" font-style="italic" font-size="7.7" fill="#444">inch</text><path d="M11.6 14.1 v3.6 h6.3 M15.7 15.2 L18.0 17.7 L15.7 20.2" stroke="#444" fill="none" stroke-width="1.3" stroke-linejoin="miter"/><text x="19.6" y="20.2" font-family="Liberation Sans" font-weight="bold" font-style="italic" font-size="10.6" fill="#444">mm</text></svg>
<div class="csep" style="background:#b9cbd6"></div>
<div class="clab">inch to mm</div></div>
<div class="card" style="left:56.4px;top:617.5px;width:49.6px;height:47px;background:#f3eef8;border-color:#ddd6e5">
<svg class="ic" width="49.6" height="28" viewBox="0 0 50 28"><text x="9.8" y="12.2" font-family="Liberation Sans" font-weight="normal" font-style="italic" font-size="8.4" fill="#444">scal</text><path d="M11.7 14.1 v3.6 h6.3 M15.8 15.2 L18.1 17.7 L15.8 20.2" stroke="#444" fill="none" stroke-width="1.3" stroke-linejoin="miter"/><text x="20.1" y="20.1" font-family="Liberation Sans" font-weight="bold" font-style="italic" font-size="9.7" fill="#444">bool</text></svg>
<div class="csep" style="background:#ddd6e5"></div>
<div class="clab"></div></div>
<div class="card" style="left:110px;top:617.5px;width:49.6px;height:47px;background:#f3eef8;border-color:#ddd6e5">
<svg class="ic" width="49.6" height="28" viewBox="0 0 50 28"><text x="9" y="12.2" font-family="Liberation Sans" font-weight="normal" font-style="italic" font-size="8.4" fill="#444">scal</text><path d="M10.799999999999999 14.1 v3.6 h6.3 M14.899999999999999 15.2 L17.2 17.7 L14.899999999999999 20.2" stroke="#444" fill="none" stroke-width="1.3" stroke-linejoin="miter"/><text x="19.1" y="20.1" font-family="Liberation Sans" font-weight="bold" font-style="italic" font-size="9.7" fill="#444">int32</text></svg>
<div class="csep" style="background:#ddd6e5"></div>
<div class="clab"></div></div>
<div class="card" style="left:163.2px;top:617.5px;width:49.6px;height:47px;background:#f3eef8;border-color:#ddd6e5">
<svg class="ic" width="49.6" height="28" viewBox="0 0 50 28"><text x="9.5" y="12.2" font-family="Liberation Sans" font-weight="normal" font-style="italic" font-size="8.4" fill="#444">scal</text><path d="M11.5 14.1 v3.6 h6.3 M15.600000000000001 15.2 L17.9 17.7 L15.600000000000001 20.2" stroke="#444" fill="none" stroke-width="1.3" stroke-linejoin="miter"/><text x="20.1" y="20.1" font-family="Liberation Sans" font-weight="bold" font-style="italic" font-size="9.7" fill="#444">float</text></svg>
<div class="csep" style="background:#ddd6e5"></div>
<div class="clab"></div></div>
<div class="a" style="left:231px;top:71px;width:443px;height:575px;background:#ffffff"></div>
<svg class="a" style="left:231px;top:105px" width="443" height="541"><g stroke="#f3f3f3" stroke-width="1"><line x1="9.40" y1="0" x2="9.40" y2="541" /><line x1="22.31" y1="0" x2="22.31" y2="541" /><line x1="35.22" y1="0" x2="35.22" y2="541" /><line x1="48.13" y1="0" x2="48.13" y2="541" /><line x1="61.04" y1="0" x2="61.04" y2="541" /><line x1="73.95" y1="0" x2="73.95" y2="541" /><line x1="86.86" y1="0" x2="86.86" y2="541" /><line x1="99.77" y1="0" x2="99.77" y2="541" /><line x1="112.68" y1="0" x2="112.68" y2="541" /><line x1="125.59" y1="0" x2="125.59" y2="541" /><line x1="138.50" y1="0" x2="138.50" y2="541" /><line x1="151.41" y1="0" x2="151.41" y2="541" /><line x1="164.32" y1="0" x2="164.32" y2="541" /><line x1="177.23" y1="0" x2="177.23" y2="541" /><line x1="190.14" y1="0" x2="190.14" y2="541" /><line x1="203.05" y1="0" x2="203.05" y2="541" /><line x1="215.96" y1="0" x2="215.96" y2="541" /><line x1="228.87" y1="0" x2="228.87" y2="541" /><line x1="241.78" y1="0" x2="241.78" y2="541" /><line x1="254.69" y1="0" x2="254.69" y2="541" /><line x1="267.60" y1="0" x2="267.60" y2="541" /><line x1="280.51" y1="0" x2="280.51" y2="541" /><line x1="293.42" y1="0" x2="293.42" y2="541" /><line x1="306.33" y1="0" x2="306.33" y2="541" /><line x1="319.24" y1="0" x2="319.24" y2="541" /><line x1="332.15" y1="0" x2="332.15" y2="541" /><line x1="345.06" y1="0" x2="345.06" y2="541" /><line x1="357.97" y1="0" x2="357.97" y2="541" /><line x1="370.88" y1="0" x2="370.88" y2="541" /><line x1="383.79" y1="0" x2="383.79" y2="541" /><line x1="396.70" y1="0" x2="396.70" y2="541" /><line x1="409.61" y1="0" x2="409.61" y2="541" /><line x1="422.52" y1="0" x2="422.52" y2="541" /><line x1="435.43" y1="0" x2="435.43" y2="541" /><line x1="0" y1="1.40" x2="443" y2="1.40" /><line x1="0" y1="14.30" x2="443" y2="14.30" /><line x1="0" y1="27.20" x2="443" y2="27.20" /><line x1="0" y1="40.10" x2="443" y2="40.10" /><line x1="0" y1="53.00" x2="443" y2="53.00" /><line x1="0" y1="65.90" x2="443" y2="65.90" /><line x1="0" y1="78.80" x2="443" y2="78.80" /><line x1="0" y1="91.70" x2="443" y2="91.70" /><line x1="0" y1="104.60" x2="443" y2="104.60" /><line x1="0" y1="117.50" x2="443" y2="117.50" /><line x1="0" y1="130.40" x2="443" y2="130.40" /><line x1="0" y1="143.30" x2="443" y2="143.30" /><line x1="0" y1="156.20" x2="443" y2="156.20" /><line x1="0" y1="169.10" x2="443" y2="169.10" /><line x1="0" y1="182.00" x2="443" y2="182.00" /><line x1="0" y1="194.90" x2="443" y2="194.90" /><line x1="0" y1="207.80" x2="443" y2="207.80" /><line x1="0" y1="220.70" x2="443" y2="220.70" /><line x1="0" y1="233.60" x2="443" y2="233.60" /><line x1="0" y1="246.50" x2="443" y2="246.50" /><line x1="0" y1="259.40" x2="443" y2="259.40" /><line x1="0" y1="272.30" x2="443" y2="272.30" /><line x1="0" y1="285.20" x2="443" y2="285.20" /><line x1="0" y1="298.10" x2="443" y2="298.10" /><line x1="0" y1="311.00" x2="443" y2="311.00" /><line x1="0" y1="323.90" x2="443" y2="323.90" /><line x1="0" y1="336.80" x2="443" y2="336.80" /><line x1="0" y1="349.70" x2="443" y2="349.70" /><line x1="0" y1="362.60" x2="443" y2="362.60" /><line x1="0" y1="375.50" x2="443" y2="375.50" /><line x1="0" y1="388.40" x2="443" y2="388.40" /><line x1="0" y1="401.30" x2="443" y2="401.30" /><line x1="0" y1="414.20" x2="443" y2="414.20" /><line x1="0" y1="427.10" x2="443" y2="427.10" /><line x1="0" y1="440.00" x2="443" y2="440.00" /><line x1="0" y1="452.90" x2="443" y2="452.90" /><line x1="0" y1="465.80" x2="443" y2="465.80" /><line x1="0" y1="478.70" x2="443" y2="478.70" /><line x1="0" y1="491.60" x2="443" y2="491.60" /><line x1="0" y1="504.50" x2="443" y2="504.50" /><line x1="0" y1="517.40" x2="443" y2="517.40" /><line x1="0" y1="530.30" x2="443" y2="530.30" /></g></svg>
<div class="a" style="left:231px;top:71px;width:443px;height:2px;background:#7565d6"></div>
<div class="a" style="left:231px;top:73px;width:443px;height:32px;background:#f4f4f4;border-bottom:1px solid #dadada"></div>
<div class="a" style="left:232px;top:77.5px;width:35px;height:22.5px;background:#e3e3e3;border-radius:3px"></div>
<div class="a" style="left:269.5px;top:77.5px;width:35px;height:22.5px;background:#e3e3e3;border-radius:3px"></div>
<div class="a" style="left:307px;top:77.5px;width:35px;height:22.5px;background:#e3e3e3;border-radius:3px"></div>
<div class="a" style="left:348px;top:73px;width:1px;height:31px;background:#e2e2e2"></div>
<div class="a" style="left:409px;top:73px;width:1px;height:31px;background:#e2e2e2"></div>
<div class="a" style="left:349px;top:78px;width:60px;text-align:center;font-weight:bold;font-size:12px;line-height:13px;color:#444">494</div>
<div class="a" style="left:349px;top:93px;width:60px;text-align:center;font-size:6.3px;line-height:7px;color:#a0a0a0;white-space:nowrap">Elapsed time, us</div>
<svg class="a" style="left:231px;top:73px" width="120" height="32">
<g fill="#1e1e1e">
<path d="M10.1 9.2 a1 1 0 0 1 1 -1 h8.5 l4.6 4.6 v2 h-4 a4.2 4.2 0 0 0 0 8.4 v0.7 h-9.1 a1 1 0 0 1 -1 -1 z"/>
<circle cx="20.7" cy="15.5" r="1.35"/><circle cx="20.7" cy="18" r="1.35"/><circle cx="20.7" cy="21" r="1.35"/><circle cx="26.2" cy="18.7" r="1.5"/>
<path d="M52.3 9 h2.3 v6.5 h2.7 l-3.85 4.8 l-3.85 -4.8 h2.7 z"/>
<path d="M47.2 19.5 h3.5 l2.8 3 l2.8 -3 h5.4 v3.3 a0.8 0.8 0 0 1 -0.8 0.8 h-12.9 a0.8 0.8 0 0 1 -0.8 -0.8 z"/>
<circle cx="58.3" cy="10.5" r="1.35"/><circle cx="58.3" cy="13" r="1.35"/><circle cx="58.3" cy="15.5" r="1.35"/><circle cx="63.7" cy="12.7" r="1.5"/>
<path d="M90.3 20.3 h2.3 v-6.5 h2.7 l-3.85 -4.8 l-3.85 4.8 h2.7 z"/>
<path d="M85.2 19.5 h3.5 v2 h5.6 v-2 h5.4 v3.3 a0.8 0.8 0 0 1 -0.8 0.8 h-12.9 a0.8 0.8 0 0 1 -0.8 -0.8 z"/>
<circle cx="96.3" cy="10.5" r="1.35"/><circle cx="96.3" cy="13" r="1.35"/><circle cx="96.3" cy="15.5" r="1.35"/><circle cx="101.7" cy="12.7" r="1.5"/>
</g>
<rect x="11.6" y="9.8" width="7.5" height="3.2" fill="#e3e3e3"/>
<circle cx="16.7" cy="18.1" r="2" fill="#e3e3e3"/>
</svg>
<svg class="a" style="left:231px;top:105px" width="443" height="541"><path d="M47.90 72.90 L104.00 72.90 Q107.00 72.90 107.00 69.90 L107.00 29.50 Q107.00 26.50 110.00 26.50 L164.10 26.50" stroke="#4a4a44" stroke-width="2" fill="none"/><path d="M47.90 83.10 L123.00 83.10 Q126.00 83.10 126.00 80.10 L126.00 42.40 Q126.00 39.40 129.00 39.40 L164.10 39.40" stroke="#4a4a44" stroke-width="2" fill="none"/><path d="M47.90 93.70 L103.50 93.70 Q106.50 93.70 106.50 96.70 L106.50 101.00 Q106.50 104.00 109.50 104.00 L164.50 104.00" stroke="#4a4a44" stroke-width="2" fill="none"/><path d="M125.70 168.40 L136.00 168.40 Q139.00 168.40 139.00 165.40 L139.00 119.70 Q139.00 116.70 142.00 116.70 L164.50 116.70" stroke="#4a4a44" stroke-width="2" fill="none"/><path d="M48.10 175.00 L86.50 175.00" stroke="#4a4a44" stroke-width="2" fill="none"/><path d="M203.00 110.60 L293.40 110.60" stroke="#4a4a44" stroke-width="2" fill="none"/><path d="M203.00 33.00 L228.80 33.00" stroke="#4a4a44" stroke-width="2" fill="none"/><path d="M267.50 33.00 L293.20 33.00" stroke="#4a4a44" stroke-width="2" fill="none"/><path d="M332.50 33.00 L354.50 33.00 Q357.50 33.00 357.50 36.00 L357.50 88.20 Q357.50 91.20 360.50 91.20 L383.70 91.20" stroke="#92ad84" stroke-width="2" fill="none"/><path d="M332.40 110.50 L354.50 110.50 Q357.50 110.50 357.50 107.50 L357.50 106.80 Q357.50 103.80 360.50 103.80 L383.70 103.80" stroke="#8fbfe0" stroke-width="2" fill="none"/><rect x="9.70" y="52.70" width="37.70" height="51.10" rx="2.5" fill="#d9e4f8" stroke="#8c8c8c" stroke-width="1.2"/><polyline points="14.00,77.90 22.00,70.40 26.40,76.40 29.70,65.90 37.90,65.90 40.40,74.40 43.40,76.40" stroke="#3d3d3d" fill="none" stroke-linejoin="round" stroke-width="1.3"/><circle cx="26.40" cy="76.40" r="1.35" fill="#3d3d3d"/><circle cx="29.70" cy="65.90" r="1.35" fill="#3d3d3d"/><circle cx="37.90" cy="65.90" r="1.35" fill="#3d3d3d"/><circle cx="40.40" cy="74.40" r="1.35" fill="#3d3d3d"/><text x="13.70" y="100.00" font-family="Liberation Sans" font-size="7.6" fill="#333">0</text><rect x="9.80" y="156.00" width="37.80" height="37.80" rx="2.5" fill="#d5e8d9" stroke="#8c8c8c" stroke-width="1.2"/><polyline points="13.70,174.60 19.90,166.50 26.00,172.30 29.20,161.70 39.30,162.60 41.00,171.40 44.20,173.20" stroke="#3d3d3d" fill="none" stroke-linejoin="round" stroke-width="1.3"/><circle cx="29.20" cy="161.70" r="1.35" fill="#3d3d3d"/><circle cx="39.30" cy="162.60" r="1.35" fill="#3d3d3d"/><text x="13.80" y="190.00" font-family="Liberation Sans" font-size="7.6" fill="#333">1</text><rect x="87.00" y="156.00" width="38.20" height="37.80" rx="2.5" fill="#f2eef8" stroke="#8c8c8c" stroke-width="1.2"/><text x="95.50" y="165.30" font-family="Liberation Sans" font-weight="bold" font-style="italic" font-size="7.2" fill="#505050">seg</text><path d="M98.10 168.10 v3.7 h6.2 M102.10 169.50 L104.30 171.80 L102.10 174.10" stroke="#444" stroke-width="1.25" fill="none"/><text x="107.00" y="172.60" font-family="Liberation Sans" font-weight="bold" font-style="italic" font-size="10.3" fill="#484848">2p</text><text x="91.00" y="190.00" font-family="Liberation Sans" font-size="7.6" fill="#333">2</text><rect x="165.00" y="91.70" width="37.50" height="37.80" rx="2.5" fill="#d2e0ea" stroke="#8c8c8c" stroke-width="1.2"/><circle cx="172.50" cy="103.30" r="1.6" fill="#3d3d3d"/><circle cx="194.50" cy="103.30" r="1.6" fill="#3d3d3d"/><path d="M175.00 103.30 H192.00 M177.00 101.30 L175.00 103.30 L177.00 105.30 M190.00 101.30 L192.00 103.30 L190.00 105.30" stroke="#3d3d3d" fill="none" stroke-linejoin="round" stroke-width="1"/><text x="169.00" y="125.70" font-family="Liberation Sans" font-size="7.6" fill="#333">3</text><rect x="164.60" y="13.90" width="37.90" height="38.00" rx="2.5" fill="#d2e0ea" stroke="#8c8c8c" stroke-width="1.2"/><circle cx="172.50" cy="25.60" r="1.6" fill="#3d3d3d"/><circle cx="194.50" cy="25.60" r="1.6" fill="#3d3d3d"/><path d="M175.00 25.60 H192.00 M177.00 23.60 L175.00 25.60 L177.00 27.60 M190.00 23.60 L192.00 25.60 L190.00 27.60" stroke="#3d3d3d" fill="none" stroke-linejoin="round" stroke-width="1"/><text x="168.60" y="48.10" font-family="Liberation Sans" font-size="7.6" fill="#333">4</text><rect x="229.30" y="14.00" width="37.70" height="38.00" rx="2.5" fill="#e6e9d6" stroke="#8c8c8c" stroke-width="1.2"/><text x="234.3" y="32.400000000000006" font-family="Liberation Sans" font-weight="bold" font-style="italic" font-size="19.5" fill="#3a3a3a">N</text><text x="250.3" y="23.19999999999999" font-family="Liberation Sans" font-style="italic" font-weight="bold" font-size="5.6" fill="#4a4a4a">(+ n)</text><text x="250.3" y="32.400000000000006" font-family="Liberation Sans" font-style="italic" font-weight="bold" font-size="5.6" fill="#4a4a4a">(- n)</text><text x="233.30" y="48.20" font-family="Liberation Sans" font-size="7.6" fill="#333">5</text><rect x="293.70" y="14.00" width="38.30" height="38.00" rx="2.5" fill="#f2eef8" stroke="#8c8c8c" stroke-width="1.2"/><text x="298.20" y="23.80" font-family="Liberation Sans" font-weight="bold" font-style="italic" font-size="7.2" fill="#505050">scal</text><path d="M300.00 26.60 v3.7 h6.2 M304.00 28.00 L306.20 30.30 L304.00 32.60" stroke="#444" stroke-width="1.25" fill="none"/><text x="308.40" y="31.50" font-family="Liberation Sans" font-weight="bold" font-style="italic" font-size="10.1" fill="#484848">bool</text><text x="297.70" y="48.20" font-family="Liberation Sans" font-size="7.6" fill="#333">7</text><rect x="293.90" y="91.90" width="38.00" height="37.70" rx="2.5" fill="#f2eef8" stroke="#8c8c8c" stroke-width="1.2"/><text x="298.40" y="101.70" font-family="Liberation Sans" font-weight="bold" font-style="italic" font-size="7.2" fill="#505050">scal</text><path d="M300.20 104.50 v3.7 h6.2 M304.20 105.90 L306.40 108.20 L304.20 110.50" stroke="#444" stroke-width="1.25" fill="none"/><text x="308.60" y="109.40" font-family="Liberation Sans" font-weight="bold" font-style="italic" font-size="10.1" fill="#484848">float</text><text x="297.90" y="125.80" font-family="Liberation Sans" font-size="7.6" fill="#333">8</text><rect x="384.20" y="78.90" width="37.90" height="37.60" rx="2.5" fill="#f2eadf" stroke="#8c8c8c" stroke-width="1.2"/><path d="M390.00 87.50 Q 399.00 82.50 409.00 83.50" stroke="#888" stroke-width="0.9" fill="none"/><path d="M394.00 88.50 Q 402.00 84.50 409.00 85.00" stroke="#999" stroke-width="0.6" fill="none"/><circle cx="404" cy="84.5" r="2.8" fill="#4a4a4a"/><path d="M409.00 82.80 Q 417.00 84.00 420.00 88.00 M410.00 85.00 Q 416.00 86.00 418.50 88.50 M411.00 87.00 Q 415.00 87.50 417.00 89.00" stroke="#333" stroke-width="0.9" fill="none"/><text x="388.5" y="93" font-family="Liberation Sans" font-style="italic" font-size="5.3" fill="#555" textLength="23" lengthAdjust="spacingAndGlyphs">EtherNet/IP</text><text x="388.20" y="112.70" font-family="Liberation Sans" font-size="7.6" fill="#333">6</text><circle cx="47.90" cy="62.70" r="3.5" fill="#527077" stroke="#3d5257" stroke-width="0.9"/><circle cx="47.90" cy="72.90" r="3.5" fill="#527077" stroke="#3d5257" stroke-width="0.9"/><circle cx="47.90" cy="83.10" r="3.5" fill="#527077" stroke="#3d5257" stroke-width="0.9"/><circle cx="47.90" cy="93.70" r="3.5" fill="#527077" stroke="#3d5257" stroke-width="0.9"/><circle cx="48.10" cy="175.00" r="3.5" fill="#527077" stroke="#3d5257" stroke-width="0.9"/><circle cx="86.50" cy="175.00" r="3.5" fill="#527077" stroke="#3d5257" stroke-width="0.9"/><circle cx="125.70" cy="168.40" r="3.5" fill="#527077" stroke="#3d5257" stroke-width="0.9"/><circle cx="125.70" cy="181.50" r="3.5" fill="#527077" stroke="#3d5257" stroke-width="0.9"/><circle cx="164.50" cy="104.00" r="3.5" fill="#527077" stroke="#3d5257" stroke-width="0.9"/><circle cx="164.50" cy="116.70" r="3.5" fill="#527077" stroke="#3d5257" stroke-width="0.9"/><circle cx="203.00" cy="110.60" r="3.5" fill="#527077" stroke="#3d5257" stroke-width="0.9"/><circle cx="164.10" cy="26.50" r="3.5" fill="#527077" stroke="#3d5257" stroke-width="0.9"/><circle cx="164.10" cy="39.40" r="3.5" fill="#527077" stroke="#3d5257" stroke-width="0.9"/><circle cx="203.00" cy="33.00" r="3.5" fill="#527077" stroke="#3d5257" stroke-width="0.9"/><circle cx="228.80" cy="33.00" r="3.5" fill="#527077" stroke="#3d5257" stroke-width="0.9"/><circle cx="267.50" cy="33.00" r="3.5" fill="#527077" stroke="#3d5257" stroke-width="0.9"/><circle cx="293.20" cy="33.00" r="3.5" fill="#527077" stroke="#3d5257" stroke-width="0.9"/><circle cx="332.50" cy="33.00" r="3.5" fill="#527077" stroke="#3d5257" stroke-width="0.9"/><circle cx="293.40" cy="110.50" r="3.5" fill="#527077" stroke="#3d5257" stroke-width="0.9"/><circle cx="332.40" cy="110.50" r="3.5" fill="#527077" stroke="#3d5257" stroke-width="0.9"/><circle cx="383.70" cy="91.20" r="3.5" fill="#527077" stroke="#3d5257" stroke-width="0.9"/><circle cx="383.70" cy="103.80" r="3.5" fill="#527077" stroke="#3d5257" stroke-width="0.9"/></svg>
<div class="a" style="left:683px;top:71px;width:513px;height:2px;background:#7565d6"></div>
<div class="a" style="left:683px;top:73px;width:513px;height:32px;background:#f4f4f4"></div>
<div class="a" style="left:1004px;top:73px;width:1px;height:32px;background:#e2e2e2"></div>
<div class="a" style="left:1133px;top:73px;width:1px;height:32px;background:#e2e2e2"></div>
<div class="a" style="left:1009px;top:77.5px;width:38px;height:22px;background:#e6e6e6;border-radius:3px"></div>
<div class="a" style="left:1049px;top:77.5px;width:38px;height:22px;background:#e6e6e6;border-radius:3px"></div>
<div class="a" style="left:1004px;top:89.5px;width:48px;text-align:center;font-size:6.6px;line-height:7px;color:#6a4fd0">Tolerance</div>
<div class="a" style="left:1049px;top:89.5px;width:38px;text-align:center;font-size:6.6px;line-height:7px;color:#6a4fd0">Lines</div>
<div class="a" style="left:1088px;top:89.5px;width:40px;text-align:center;font-size:6.6px;line-height:7px;color:#333;white-space:nowrap">Result filter</div>
<svg class="a" style="left:1004px;top:73px" width="196" height="32">
<text x="16.5" y="16" font-family="Liberation Sans" font-weight="bold" font-style="italic" font-size="10" fill="#6a4fd0">N</text>
<text x="26" y="11" font-family="Liberation Sans" font-size="3.6" fill="#8c72d8">(+n)</text><text x="26" y="15.5" font-family="Liberation Sans" font-size="3.6" fill="#8c72d8">(-n)</text>
<g fill="#6a4fd0"><circle cx="67.8" cy="8" r="1.9"/><circle cx="61.5" cy="11.8" r="1.9"/><circle cx="67.8" cy="15.4" r="1.9"/></g>
<path d="M67.8 8 L61.5 11.8 L67.8 15.4" stroke="#6a4fd0" stroke-width="1" fill="none"/>
<path d="M99 12 Q 104.8 5.5 110.6 12 Q 104.8 18.5 99 12 Z" fill="#222"/><circle cx="104.8" cy="12" r="2.5" fill="#f4f4f4"/><circle cx="104.8" cy="12" r="1.5" fill="#222"/>
<g fill="none" stroke="#2a2a2a" stroke-width="1.5"><circle cx="139.3" cy="13.5" r="4.3"/><line x1="142.5" y1="16.8" x2="146.5" y2="20.8" stroke-width="2"/><path d="M137 13.5 h4.6 M139.3 11.2 v4.6" stroke-width="1.3"/>
<circle cx="161.3" cy="13.5" r="4.3"/><line x1="164.5" y1="16.8" x2="168.5" y2="20.8" stroke-width="2"/><path d="M159 13.5 h4.6" stroke-width="1.3"/></g>
<g stroke="#2a2a2a" stroke-width="1.5" fill="#2a2a2a"><line x1="179.5" y1="11" x2="187.5" y2="19"/><line x1="187.5" y1="11" x2="179.5" y2="19"/><path d="M177.5 9.5 h4 l-4 4 z M189.5 9.5 h-4 l4 4 z M177.5 20.5 h4 l-4 -4 z M189.5 20.5 h-4 l4 -4 z" stroke-width="0.5"/></g>
</svg>
<svg class="a" style="left:683px;top:105px" width="513" height="541"><rect x="0" y="0" width="513" height="541" fill="#333333"/><line x1="43.50" y1="0" x2="43.50" y2="526.50" stroke="#3f3f3f" stroke-width="1"/><line x1="91.30" y1="0" x2="91.30" y2="526.50" stroke="#3f3f3f" stroke-width="1"/><line x1="139.10" y1="0" x2="139.10" y2="526.50" stroke="#3f3f3f" stroke-width="1"/><line x1="186.90" y1="0" x2="186.90" y2="526.50" stroke="#3f3f3f" stroke-width="1"/><line x1="234.70" y1="0" x2="234.70" y2="526.50" stroke="#3f3f3f" stroke-width="1"/><line x1="282.50" y1="0" x2="282.50" y2="526.50" stroke="#7a7a7a" stroke-width="1"/><line x1="330.30" y1="0" x2="330.30" y2="526.50" stroke="#3f3f3f" stroke-width="1"/><line x1="378.10" y1="0" x2="378.10" y2="526.50" stroke="#3f3f3f" stroke-width="1"/><line x1="425.90" y1="0" x2="425.90" y2="526.50" stroke="#3f3f3f" stroke-width="1"/><line x1="473.70" y1="0" x2="473.70" y2="526.50" stroke="#3f3f3f" stroke-width="1"/><line x1="28.50" y1="482.00" x2="513" y2="482.00" stroke="#3f3f3f" stroke-width="1"/><line x1="28.50" y1="434.30" x2="513" y2="434.30" stroke="#3f3f3f" stroke-width="1"/><line x1="28.50" y1="386.60" x2="513" y2="386.60" stroke="#3f3f3f" stroke-width="1"/><line x1="28.50" y1="338.90" x2="513" y2="338.90" stroke="#3f3f3f" stroke-width="1"/><line x1="28.50" y1="291.20" x2="513" y2="291.20" stroke="#3f3f3f" stroke-width="1"/><line x1="28.50" y1="243.50" x2="513" y2="243.50" stroke="#3f3f3f" stroke-width="1"/><line x1="28.50" y1="195.80" x2="513" y2="195.80" stroke="#3f3f3f" stroke-width="1"/><line x1="28.50" y1="148.10" x2="513" y2="148.10" stroke="#3f3f3f" stroke-width="1"/><line x1="28.50" y1="100.40" x2="513" y2="100.40" stroke="#3f3f3f" stroke-width="1"/><line x1="28.50" y1="52.70" x2="513" y2="52.70" stroke="#3f3f3f" stroke-width="1"/><line x1="28.50" y1="5.00" x2="513" y2="5.00" stroke="#3f3f3f" stroke-width="1"/><line x1="28.5" y1="434.30" x2="513" y2="434.30" stroke="#8a8a8a" stroke-width="1.2"/><line x1="35.200000000000045" y1="0" x2="35.200000000000045" y2="520.5" stroke="#8f8f8f" stroke-width="1.3"/><line x1="35.200000000000045" y1="520.5" x2="513" y2="520.5" stroke="#8f8f8f" stroke-width="1.3"/><text x="12.399999999999977" y="485.10" text-anchor="middle" font-family="Liberation Sans" font-weight="bold" font-size="8.8" fill="#dcdcdc">-5.0</text><text x="12.399999999999977" y="437.40" text-anchor="middle" font-family="Liberation Sans" font-weight="bold" font-size="8.8" fill="#dcdcdc">0.0</text><text x="12.399999999999977" y="389.70" text-anchor="middle" font-family="Liberation Sans" font-weight="bold" font-size="8.8" fill="#dcdcdc">5.0</text><text x="12.399999999999977" y="342.00" text-anchor="middle" font-family="Liberation Sans" font-weight="bold" font-size="8.8" fill="#dcdcdc">10.0</text><text x="12.399999999999977" y="294.30" text-anchor="middle" font-family="Liberation Sans" font-weight="bold" font-size="8.8" fill="#dcdcdc">15.0</text><text x="12.399999999999977" y="246.60" text-anchor="middle" font-family="Liberation Sans" font-weight="bold" font-size="8.8" fill="#dcdcdc">20.0</text><text x="12.399999999999977" y="198.90" text-anchor="middle" font-family="Liberation Sans" font-weight="bold" font-size="8.8" fill="#dcdcdc">25.0</text><text x="12.399999999999977" y="151.20" text-anchor="middle" font-family="Liberation Sans" font-weight="bold" font-size="8.8" fill="#dcdcdc">30.0</text><text x="12.399999999999977" y="103.50" text-anchor="middle" font-family="Liberation Sans" font-weight="bold" font-size="8.8" fill="#dcdcdc">35.0</text><text x="12.399999999999977" y="55.80" text-anchor="middle" font-family="Liberation Sans" font-weight="bold" font-size="8.8" fill="#dcdcdc">40.0</text><text x="12.399999999999977" y="8.10" text-anchor="middle" font-family="Liberation Sans" font-weight="bold" font-size="8.8" fill="#dcdcdc">45.0</text><text x="43.50" y="539" text-anchor="middle" font-family="Liberation Sans" font-weight="bold" font-size="8.8" fill="#dcdcdc">-25.0</text><text x="91.30" y="539" text-anchor="middle" font-family="Liberation Sans" font-weight="bold" font-size="8.8" fill="#dcdcdc">-20.0</text><text x="139.10" y="539" text-anchor="middle" font-family="Liberation Sans" font-weight="bold" font-size="8.8" fill="#dcdcdc">-15.0</text><text x="186.90" y="539" text-anchor="middle" font-family="Liberation Sans" font-weight="bold" font-size="8.8" fill="#dcdcdc">-10.0</text><text x="234.70" y="539" text-anchor="middle" font-family="Liberation Sans" font-weight="bold" font-size="8.8" fill="#dcdcdc">-5.0</text><text x="282.50" y="539" text-anchor="middle" font-family="Liberation Sans" font-weight="bold" font-size="8.8" fill="#dcdcdc">0.0</text><text x="330.30" y="539" text-anchor="middle" font-family="Liberation Sans" font-weight="bold" font-size="8.8" fill="#dcdcdc">5.0</text><text x="378.10" y="539" text-anchor="middle" font-family="Liberation Sans" font-weight="bold" font-size="8.8" fill="#dcdcdc">10.0</text><text x="425.90" y="539" text-anchor="middle" font-family="Liberation Sans" font-weight="bold" font-size="8.8" fill="#dcdcdc">15.0</text><text x="473.70" y="539" text-anchor="middle" font-family="Liberation Sans" font-weight="bold" font-size="8.8" fill="#dcdcdc">20.0</text><rect x="60.200000000000045" y="214.3" width="434.79999999999995" height="191.0" fill="none" stroke="#2d5a45" stroke-width="1"/><line x1="60.200000000000045" y1="310.6" x2="495" y2="310.6" stroke="#2d5a45" stroke-width="1"/><line x1="278" y1="214.3" x2="278" y2="405.3" stroke="#2d5a45" stroke-width="1"/><text x="66.5" y="223.5" font-family="Liberation Sans" font-size="8.5" fill="#3aa56a">0</text><rect x="283" y="231" width="264" height="190.60000000000002" fill="none" stroke="#2d5a45" stroke-width="1"/><line x1="283" y1="326" x2="513" y2="326" stroke="#2d5a45" stroke-width="1"/><line x1="426.4000000000001" y1="231" x2="426.4000000000001" y2="421.6" stroke="#2d5a45" stroke-width="1"/><text x="289.5" y="239.5" font-family="Liberation Sans" font-size="8.5" fill="#3aa56a">1</text><polyline points="13.50,0.00 91.50,434.30 473.00,434.30 513.00,211.00" fill="none" stroke="#d0d0d0" stroke-width="1.1"/><polyline points="140.70,358.20 192.20,359.10 201.80,305.70 225.30,306.90 237.90,361.70 321.70,364.20 324.80,338.30 413.70,341.30" fill="none" stroke="#86bcd6" stroke-width="1.2"/><line x1="140.70" y1="358.70" x2="192.20" y2="359.60" stroke="#e03535" stroke-width="1.3" opacity="0.9"/><line x1="201.80" y1="306.20" x2="225.30" y2="307.40" stroke="#e03535" stroke-width="1.3" opacity="0.9"/><line x1="237.90" y1="362.20" x2="321.70" y2="364.70" stroke="#e03535" stroke-width="1.3" opacity="0.9"/><line x1="324.80" y1="338.80" x2="413.70" y2="341.80" stroke="#e03535" stroke-width="1.3" opacity="0.9"/><line x1="192.90" y1="359.10" x2="202.50" y2="305.70" stroke="#e03535" stroke-width="1" opacity="0.8" stroke-dasharray="1.6 2.2"/><line x1="226.00" y1="306.90" x2="238.60" y2="361.70" stroke="#e03535" stroke-width="1" opacity="0.8" stroke-dasharray="1.6 2.2"/><rect x="138.50" y="356.00" width="4.4" height="4.4" fill="#3b5fd0"/><rect x="411.50" y="339.10" width="4.4" height="4.4" fill="#3b5fd0"/><circle cx="192.20" cy="359.10" r="2.3" fill="#3a5fd0" opacity="0.85"/><path d="M188.90 359.10 h6.6 M192.20 355.80 v6.6" stroke="#33e633" stroke-width="1.6"/><circle cx="201.80" cy="305.70" r="2.3" fill="#3a5fd0" opacity="0.85"/><path d="M198.50 305.70 h6.6 M201.80 302.40 v6.6" stroke="#33e633" stroke-width="1.6"/><circle cx="225.30" cy="306.90" r="2.3" fill="#3a5fd0" opacity="0.85"/><path d="M222.00 306.90 h6.6 M225.30 303.60 v6.6" stroke="#33e633" stroke-width="1.6"/><circle cx="237.90" cy="361.70" r="2.3" fill="#3a5fd0" opacity="0.85"/><path d="M234.60 361.70 h6.6 M237.90 358.40 v6.6" stroke="#33e633" stroke-width="1.6"/><path d="M321.70 360.70 l3.5 3.5 l-3.5 3.5 l-3.5 -3.5 z" fill="#33e633"/><path d="M324.80 334.80 l3.5 3.5 l-3.5 3.5 l-3.5 -3.5 z" fill="#33e633"/><line x1="202.60000000000002" y1="286" x2="201.79999999999995" y2="306" stroke="#33e633" stroke-width="1.2"/><line x1="226" y1="287.5" x2="225.29999999999995" y2="307" stroke="#33e633" stroke-width="1.2"/><line x1="202.60" y1="293.20" x2="226.00" y2="293.60" stroke="#33e633" stroke-width="1.2"/><path d="M202.60 293.20 L210.56 295.64 L210.64 291.04 Z" fill="#33e633"/><path d="M226.00 293.60 L217.96 295.76 L218.04 291.16 Z" fill="#33e633"/><text x="214.79999999999995" y="289.3" text-anchor="middle" font-family="Liberation Sans" font-size="7.8" fill="#d8d8d8">2.45</text><line x1="238.70000000000005" y1="342" x2="237.89999999999998" y2="361.7" stroke="#33e633" stroke-width="1.2"/><line x1="322.79999999999995" y1="345" x2="321.70000000000005" y2="364.2" stroke="#33e633" stroke-width="1.2"/><line x1="322.79999999999995" y1="351" x2="324.79999999999995" y2="338.3" stroke="#33e633" stroke-width="1.2"/><line x1="238.70" y1="348.80" x2="322.80" y2="351.40" stroke="#33e633" stroke-width="1.2"/><path d="M238.70 348.80 L246.63 351.35 L246.77 346.75 Z" fill="#33e633"/><path d="M322.80 351.40 L314.73 353.45 L314.87 348.85 Z" fill="#33e633"/><text x="280.29999999999995" y="346" text-anchor="middle" font-family="Liberation Sans" font-size="7.8" fill="#d8d8d8">8.74</text></svg>
<div class="a" style="left:1044.5px;top:111.5px;width:148px;height:45px;background:#2a2a2a;border:1px solid #3c3c3c;border-radius:2px;font-size:7.3px;color:#d6d6d6;overflow:hidden">
<div class="a" style="left:0;top:0;width:146px;height:14px;text-align:center;line-height:14px;font-weight:bold">Control results</div>
<div class="a" style="left:0;top:14px;width:146px;height:1px;background:#3a3a3a"></div>
<div class="a" style="left:0;top:28.5px;width:146px;height:1px;background:#3a3a3a"></div>
<div class="a" style="left:17px;top:14px;width:1px;height:30px;background:#3a3a3a"></div>
<div class="a" style="left:67.5px;top:14px;width:1px;height:30px;background:#3a3a3a"></div>
<div class="a" style="left:103px;top:14px;width:1px;height:30px;background:#3a3a3a"></div>
<div class="a" style="left:0;top:15px;width:17px;text-align:center;line-height:13.5px;font-weight:bold">#</div>
<div class="a" style="left:18px;top:15px;width:49.5px;text-align:center;line-height:13.5px;font-weight:bold">Type</div>
<div class="a" style="left:68.5px;top:15px;width:34.5px;text-align:center;line-height:13.5px;font-weight:bold">Value</div>
<div class="a" style="left:104px;top:15px;width:42px;text-align:center;line-height:13.5px;font-weight:bold">Result</div>
<div class="a" style="left:0;top:29.5px;width:17px;text-align:center;line-height:14px">5</div>
<div class="a" style="left:18px;top:29.5px;width:49.5px;text-align:center;line-height:14px">Distance</div>
<div class="a" style="left:68.5px;top:29.5px;width:34.5px;text-align:center;line-height:14px;color:#36a352">2.45</div>
<div class="a" style="left:103.5px;top:29.5px;width:43px;height:14.5px;background:#2b8a45;text-align:center;line-height:14px;color:#163f22">PASS</div>
</div>
<div class="redb" style="left:43px;top:67px;width:183px;height:583px"></div>
<div class="redb" style="left:227px;top:67px;width:451px;height:583px"></div>
<div class="redb" style="left:679px;top:67px;width:521px;height:582px"></div>
<svg class="a" style="left:130px;top:340px" width="30" height="36"><path d="M13 5 L17.5 5 L17.5 28.8 L22.2 28.8 L22.2 32 L7 32 L7 28.8 L13 28.8 L13 10.6 L9 13.6 L7.3 11 Z" fill="#ff0000"/></svg>
<div class="num" style="left:426px;top:340px;font-size:38.5px">2</div>
<div class="num" style="left:937px;top:341px;font-size:38.5px">3</div>
</body></html>
